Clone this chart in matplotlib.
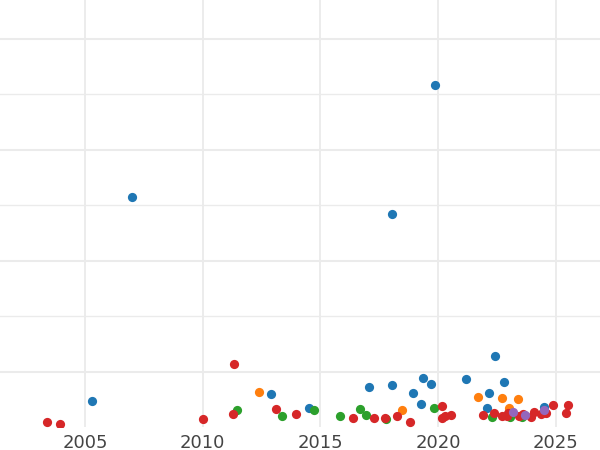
import matplotlib
matplotlib.use('Agg')
import matplotlib.pyplot as plt
from matplotlib.ticker import MultipleLocator

# 시리즈별 데이터 (연도, 값)
blue_x = [2007.0, 2019.86, 2018.04, 2005.3, 2012.9, 2014.51, 2017.05, 2018.05, 2019.37, 2019.69,
          2018.93, 2019.27, 2021.17, 2022.42, 2022.15, 2022.79, 2022.09, 2024.48]
blue_y = [2577, 3586, 2423, 739, 802, 680, 862, 886, 949, 889,
          808, 714, 934, 1147, 815, 913, 680, 682]

orange_x = [2012.39, 2018.46, 2021.67, 2022.72, 2023.39, 2023.02]
orange_y = [817, 658, 772, 766, 754, 673]

green_x = [2011.47, 2013.38, 2014.74, 2015.84, 2016.66, 2016.92, 2017.79, 2019.84, 2022.29, 2023.05, 2023.55]
green_y = [658, 604, 655, 601, 664, 610, 577, 673, 597, 592, 592]

red_x = [2003.39, 2003.93, 2010.0, 2011.34, 2011.27, 2013.1, 2013.96, 2016.39, 2017.27, 2017.75,
         2018.26, 2018.81, 2020.15, 2020.17, 2020.29, 2020.53, 2021.91, 2022.37, 2022.72, 2022.91,
         2022.97, 2023.43, 2023.61, 2023.93, 2024.08, 2024.35, 2024.56, 2024.87, 2025.5, 2025.44]
red_y = [547, 532, 574, 1075, 619, 664, 624, 588, 586, 586,
         604, 552, 695, 588, 608, 614, 613, 628, 604, 606,
         628, 604, 619, 597, 642, 622, 628, 703, 703, 628]

purple_x = [2023.16, 2023.68, 2024.49]
purple_y = [642, 613, 655]

fig = plt.figure(figsize=(6, 4.5), dpi=100)
ax = fig.add_axes([0, 0.0511, 1, 0.9489])

s = 44
ax.scatter(blue_x, blue_y, s=s, color='#1f77b4', linewidths=0, zorder=3)
ax.scatter(orange_x, orange_y, s=s, color='#ff7f0e', linewidths=0, zorder=3)
ax.scatter(green_x, green_y, s=s, color='#2ca02c', linewidths=0, zorder=3)
ax.scatter(red_x, red_y, s=s, color='#d62728', linewidths=0, zorder=3)
ax.scatter(purple_x, purple_y, s=s, color='#9467bd', linewidths=0, zorder=3)

ax.set_xlim(2001.39, 2026.87)
ax.set_ylim(504.5, 4351)
ax.xaxis.set_major_locator(MultipleLocator(5))
ax.yaxis.set_major_locator(MultipleLocator(1000))
ax.yaxis.set_minor_locator(MultipleLocator(500))

ax.grid(True, which='major', axis='y', color='#ebebeb', linewidth=1.5)
ax.grid(True, which='minor', axis='y', color='#ebebeb', linewidth=1.0)
ax.grid(True, which='major', axis='x', color='#ebebeb', linewidth=1.3)
ax.set_axisbelow(True)

for sp in ax.spines.values():
    sp.set_visible(False)
ax.tick_params(axis='x', length=0, pad=5, labelsize=13, labelcolor='#444444')
ax.tick_params(axis='y', which='both', length=0, labelleft=False)

fig.savefig('out.png', dpi=100)
